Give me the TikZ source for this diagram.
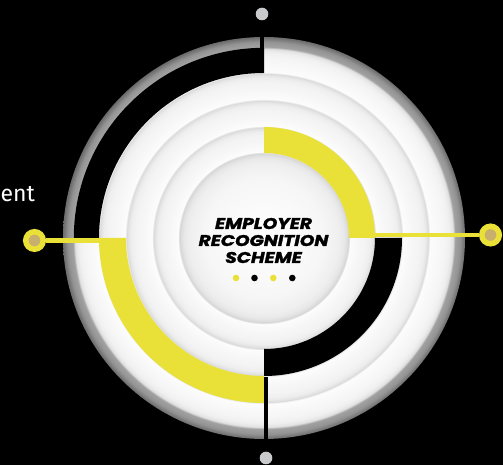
\documentclass[tikz,border=0pt]{standalone}
\usepackage{fontspec}
\usepackage{graphicx}
\newfontfamily\titlefont{Poppins}[BoldItalicFeatures={FakeBold=1.6}]
\newfontfamily\entfont{Fira Sans}
\definecolor{ylw}{RGB}{233,225,55}
\definecolor{tan}{RGB}{200,175,110}
\definecolor{dotgray}{RGB}{200,202,204}
% radial profile: position = r*25/201 bp
\pgfdeclareradialshading{rings}{\pgfpoint{0bp}{0bp}}{%
rgb(0bp)=(1,1,1);
rgb(7.463bp)=(0.965,0.965,0.965);
rgb(9.328bp)=(0.935,0.935,0.935);
rgb(9.950bp)=(0.91,0.91,0.91);
rgb(10.323bp)=(0.87,0.87,0.87);
rgb(10.572bp)=(0.82,0.82,0.82);
rgb(10.597bp)=(0.99,0.99,0.99);
rgb(11.816bp)=(0.965,0.965,0.965);
rgb(12.562bp)=(0.955,0.955,0.955);
rgb(13.184bp)=(0.935,0.935,0.935);
rgb(13.557bp)=(0.89,0.89,0.89);
rgb(13.806bp)=(0.83,0.83,0.83);
rgb(13.831bp)=(0.99,0.99,0.99);
rgb(15.174bp)=(0.965,0.965,0.965);
rgb(15.920bp)=(0.955,0.955,0.955);
rgb(16.542bp)=(0.935,0.935,0.935);
rgb(16.915bp)=(0.89,0.89,0.89);
rgb(17.164bp)=(0.83,0.83,0.83);
rgb(17.189bp)=(0.99,0.99,0.99);
rgb(18.532bp)=(0.965,0.965,0.965);
rgb(19.279bp)=(0.955,0.955,0.955);
rgb(19.900bp)=(0.935,0.935,0.935);
rgb(20.274bp)=(0.89,0.89,0.89);
rgb(20.522bp)=(0.83,0.83,0.83);
rgb(20.547bp)=(0.99,0.99,0.99);
rgb(21.766bp)=(0.97,0.97,0.97);
rgb(22.388bp)=(0.96,0.96,0.96);
rgb(23.010bp)=(0.94,0.94,0.94);
rgb(23.383bp)=(0.90,0.90,0.90);
rgb(23.632bp)=(0.84,0.84,0.84);
rgb(23.669bp)=(0.64,0.64,0.64);
rgb(24.378bp)=(0.58,0.58,0.58);
rgb(25bp)=(0.42,0.42,0.42);
rgb(50bp)=(0.42,0.42,0.42)}
\tikzset{
  hub/.style={circle,draw=ylw,line width=5.5pt,fill=tan,minimum size=17.5pt,inner sep=0pt},
  conn/.style={draw=ylw,line width=4.5pt},
  divider/.style={fill=black},
  enddot/.style={circle,fill=dotgray,minimum size=12.6pt,inner sep=0pt},
  smalldot/.style={circle,minimum size=6.6pt,inner sep=0pt},
  titletext/.style={font=\titlefont\bfseries\itshape\fontsize{15.5}{17}\selectfont,text=black,inner sep=0pt}
}
\newcommand{\annsec}[5]{% color, r1, r2, a1, a2
  \fill[#1] ([shift={(#4:#3)}]C) arc[start angle=#4,end angle=#5,radius=#3]
    -- ([shift={(#5:#2)}]C) arc[start angle=#5,end angle=#4,radius=#2] -- cycle;}
\begin{document}
\begin{tikzpicture}[x=1pt,y=1pt]
\useasboundingbox (0,0) rectangle (503,465);
\fill[black] (0,0) rectangle (503,465);
\coordinate (C) at (264,227);
% rings with shadows and gray outer ring
\shade[shading=rings] (C) circle (201);
% black gaps
\annsec{black}{165}{190.2}{90}{180}
\annsec{black}{111}{138}{270}{360}
% yellow segments
\annsec{ylw}{85}{111}{0}{90}
\annsec{ylw}{138}{165}{180}{270}
% dividers
\fill[divider] (259.5,392) rectangle (263.5,429);
\fill[divider] (263.5,25) rectangle (268,88);
% end dots
\node[enddot] (topdot) at (262,451) {};
\node[enddot] (botdot) at (266,7) {};
% connectors
\node[hub] (lhub) at (34.5,224.5) {};
\node[hub] (rhub) at (490.5,230) {};
\coordinate (lend) at (125,224.5);
\coordinate (rend) at (360,230);
\draw[conn] (lhub) -- (lend);
\draw[conn] (rend) -- (rhub);
% side text
\node[anchor=base west,text=white,font=\entfont\fontsize{23}{27}\selectfont,inner sep=0pt] (ent) at (0.5,263) {ent};
% title
\node[titletext,anchor=base] (t1) at (263.5,236) {\scalebox{1.2}[1]{EMPLOYER}};
\node[titletext,anchor=base] (t2) at (263.5,219) {\scalebox{1.2}[1]{RECOGNITION}};
\node[titletext,anchor=base] (t3) at (263.5,202) {\scalebox{1.2}[1]{SCHEME}};
\node[smalldot,fill=ylw] (d1) at (236,187) {};
\node[smalldot,fill=black] (d2) at (254.5,187) {};
\node[smalldot,fill=ylw] (d3) at (273.3,187) {};
\node[smalldot,fill=black] (d4) at (292.3,187) {};
\end{tikzpicture}
\end{document}
